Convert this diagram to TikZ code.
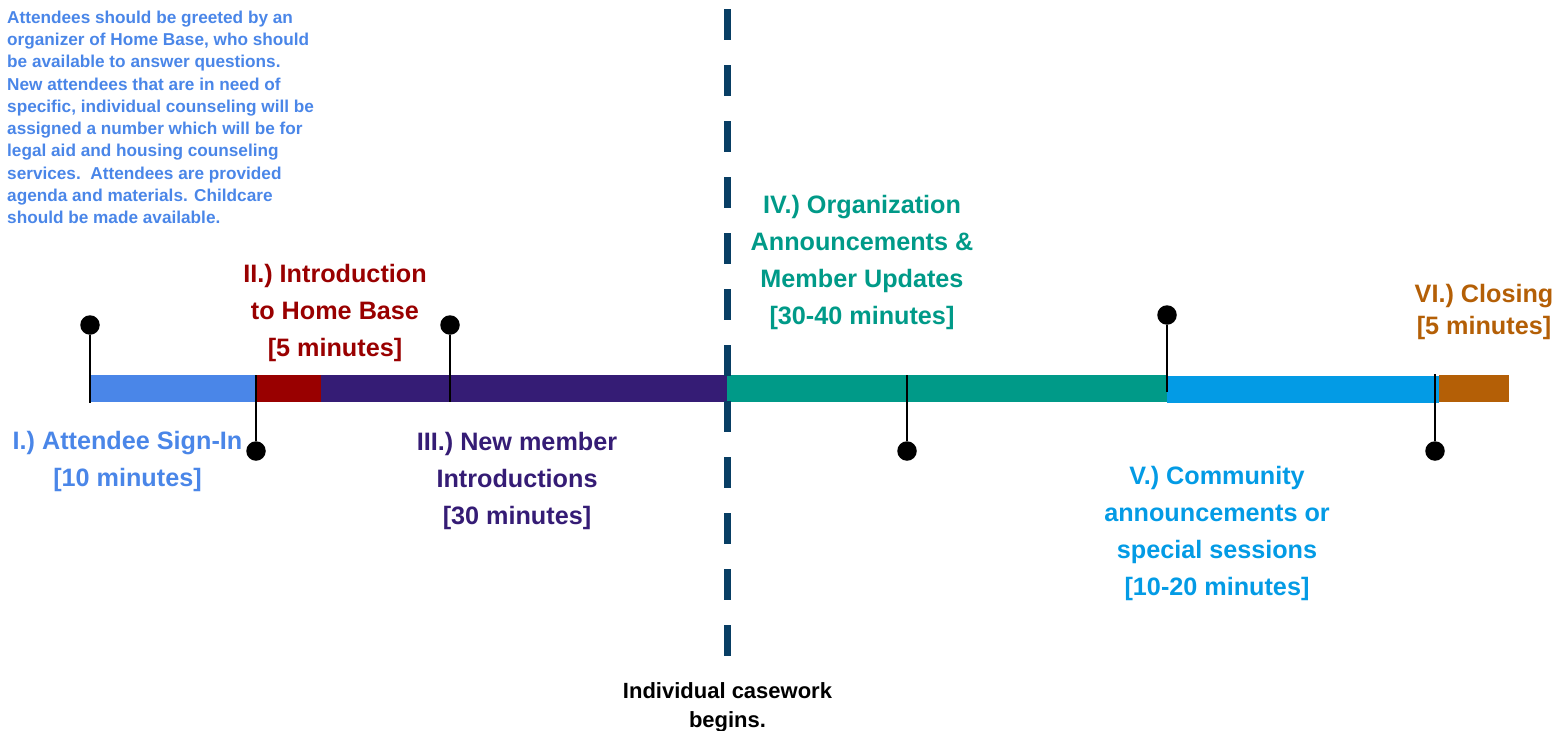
\documentclass[tikz,border=0pt]{standalone}
\usepackage{fontspec}
\setmainfont{Liberation Sans}
\definecolor{cSign}{HTML}{4A86E8}
\definecolor{cIntro}{HTML}{990000}
\definecolor{cNew}{HTML}{351C75}
\definecolor{cOrg}{HTML}{009A88}
\definecolor{cComm}{HTML}{039BE5}
\definecolor{cClose}{HTML}{B45F06}
\definecolor{cDash}{HTML}{083E64}
\begin{document}
\begin{tikzpicture}[x=1pt,y=-1pt,
  seg/.style={fill=#1, draw=none},
  tick/.style={black, line width=2pt},
  pin/.style={circle, fill=black, inner sep=0pt, minimum size=19.5pt},
  lbl/.style={text=#1, font=\bfseries\fontsize{25.2}{37}\selectfont, align=center, inner sep=0pt},
  note/.style={text=#1, font=\bfseries\fontsize{17.2}{22.3}\selectfont, align=left, inner sep=0pt},
]
\useasboundingbox (0,0) rectangle (1556,731);

% timeline bar
\fill[seg=cSign]  (90,375)   rectangle (256,402);
\fill[seg=cIntro] (256,375)  rectangle (321,402);
\fill[seg=cNew]   (321,375)  rectangle (727,402);
\fill[seg=cOrg]   (727,375)  rectangle (1167,402);
\fill[seg=cComm]  (1167,376) rectangle (1439,403);
\fill[seg=cClose] (1439,375) rectangle (1509,402);

% pins
\node[pin] (p1) at (90,325) {};
\node[pin] (p2) at (256,451) {};
\node[pin] (p3) at (450,325) {};
\node[pin] (p4) at (907,451) {};
\node[pin] (p5) at (1167,315) {};
\node[pin] (p6) at (1435,451) {};
\coordinate (t1) at (90,403);
\coordinate (t2) at (256,375);
\coordinate (t3) at (450,402);
\coordinate (t4) at (907,375);
\coordinate (t5) at (1167,392);
\coordinate (t6) at (1435,374);
\draw[tick] (p1) -- (t1);
\draw[tick] (p2) -- (t2);
\draw[tick] (p3) -- (t3);
\draw[tick] (p4) -- (t4);
\draw[tick] (p5) -- (t5);
\draw[tick] (p6) -- (t6);

% casework divider
\coordinate (d1) at (727.5,9);
\coordinate (d2) at (727.5,656);
\draw[cDash, line width=7.5pt, dash pattern=on 31pt off 25pt] (d1) -- (d2);

% labels
\node[note=cSign, anchor=north west] (intro) at (7,10.5) {Attendees should be greeted by an\\organizer of Home Base, who should\\be available to answer questions.\\New attendees that are in need of\\specific, individual counseling will be\\assigned a number which will be for\\legal aid and housing counseling\\services.\ \ Attendees are provided\\agenda and materials. Childcare\\should be made available.};

\node[lbl=cSign]  (l1) at (127.5,461)  {I.) Attendee Sign-In\\{[10 minutes]}};
\node[lbl=cIntro] (l2) at (335,312.5)  {II.) Introduction\\to Home Base\\{[5 minutes]}};
\node[lbl=cNew]   (l3) at (517,480.5)  {III.) New member\\Introductions\\{[30 minutes]}};
\node[lbl=cOrg]   (l4) at (862,262.5)  {IV.) Organization\\Announcements \&\\Member Updates\\{[30-40 minutes]}};
\node[lbl=cComm]  (l5) at (1217,533.5) {V.) Community\\announcements or\\special sessions\\{[10-20 minutes]}};
\node[lbl=cClose, font=\bfseries\fontsize{25.2}{32}\selectfont] (l6) at (1484,311.5) {VI.) Closing\\{[5 minutes]}};
\node[lbl=black, font=\bfseries\fontsize{22}{29}\selectfont] (l7) at (727.5,707.5) {Individual casework\\begins.};
\end{tikzpicture}
\end{document}
